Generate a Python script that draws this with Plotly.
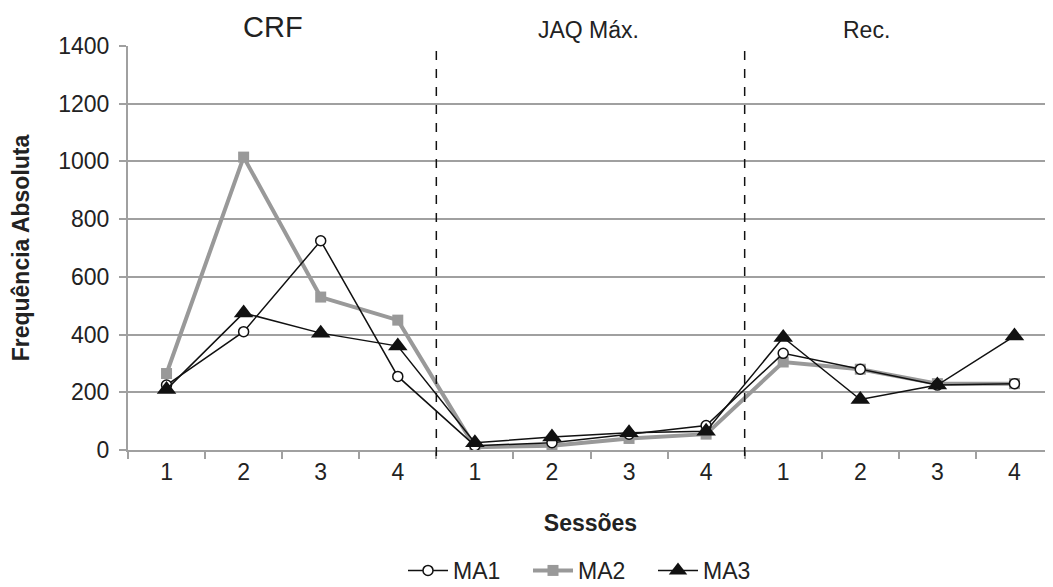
import plotly.graph_objects as go

sessions = ["1", "2", "3", "4", "1", "2", "3", "4", "1", "2", "3", "4"]
phases = ["CRF", "JAQ Máx.", "Rec."]
ma1 = [225, 410, 725, 255, 15, 25, 55, 85, 335, 280, 225, 230]
ma2 = [265, 1015, 530, 450, 10, 15, 40, 55, 305, 280, 230, 230]
ma3 = [210, 475, 405, 360, 25, 45, 60, 65, 390, 175, 225, 395]
phase_breaks = [3.5, 7.5]

x = list(range(len(sessions)))
FONT = "Liberation Sans, Arial, sans-serif"
TXT = "#222222"
AX = "#a0a0a0"

fig = go.Figure()
fig.add_trace(go.Scatter(
    x=x, y=ma2, name="MA2", mode="lines+markers", legendrank=2,
    line=dict(color="#999999", width=4),
    marker=dict(symbol="square", size=11, color="#999999")))
fig.add_trace(go.Scatter(
    x=x, y=ma1, name="MA1", mode="lines+markers", legendrank=1,
    line=dict(color="#111111", width=1.5),
    marker=dict(symbol="circle", size=10, color="white", line=dict(color="#111111", width=1.5))))
fig.add_trace(go.Scatter(
    x=x, y=ma3, name="MA3", mode="lines+markers", legendrank=3,
    line=dict(color="#111111", width=1.5),
    marker=dict(symbol="triangle-up", size=17, color="#111111")))

for b in phase_breaks:
    fig.add_shape(type="line", xref="x", yref="paper", x0=b, x1=b, y0=-0.015, y1=1,
                  line=dict(color="#111111", width=1.5, dash="dash"))

phase_pos = [0.157, 0.498, 0.798]
phase_size = [29, 23, 23]
for name, px, fs in zip(phases, phase_pos, phase_size):
    fig.add_annotation(text=name, xref="paper", yref="paper", x=px, y=1.0,
                       xanchor="center", yanchor="bottom", yshift=1, showarrow=False,
                       font=dict(size=fs, color=TXT, family=FONT))

fig.update_layout(
    width=1053, height=587,
    margin=dict(l=120, r=8, t=38, b=145, autoexpand=False),
    paper_bgcolor="white", plot_bgcolor="white",
    font=dict(family=FONT, size=23, color=TXT),
    showlegend=True,
    legend=dict(orientation="h", x=0.5, xanchor="center", y=-0.245, yanchor="top",
                font=dict(size=23, color=TXT), traceorder="normal",
                entrywidth=70, entrywidthmode="pixels", itemwidth=40),
)
fig.update_xaxes(
    range=[-0.5, 11.5], tickmode="array", tickvals=x, ticktext=sessions,
    ticks="", showgrid=False, showline=True, linecolor=AX, linewidth=2,
    zeroline=False, tickfont=dict(size=23, color=TXT), automargin=False,
    minor=dict(tickmode="linear", tick0=-0.5, dtick=1, ticks="outside",
               ticklen=7, tickcolor=AX, tickwidth=2, showgrid=False),
    title=dict(text="<b>Sessões</b>", font=dict(size=23, color=TXT), standoff=31),
)
fig.update_yaxes(
    range=[0, 1400], tickmode="linear", tick0=0, dtick=200,
    showgrid=True, gridcolor=AX, gridwidth=2, automargin=False,
    showline=True, linecolor=AX, linewidth=2, zeroline=False,
    ticks="outside", ticklen=7, tickcolor=AX, tickwidth=2, ticklabelstandoff=5,
    tickfont=dict(size=23, color=TXT),
    title=dict(text="<b>Frequência Absoluta</b>", font=dict(size=23, color=TXT), standoff=22),
)

fig.write_html("out.html")
